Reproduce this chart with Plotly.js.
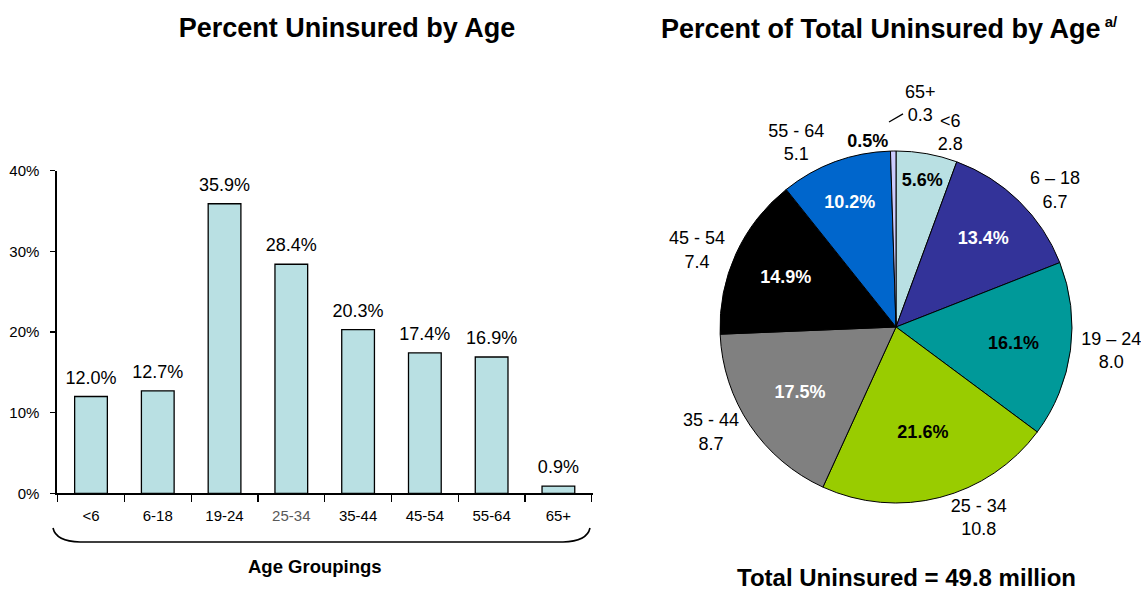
<!DOCTYPE html>
<html><head><meta charset="utf-8">
<script src="https://cdn.plot.ly/plotly-3.0.1.min.js"></script>
<style>html,body{margin:0;padding:0;background:#fff;} #chart{width:1141px;height:590px;}</style>
</head><body><div id="chart"></div>
<script>
// ---- data ----
const ageGroups = ['<6', '6-18', '19-24', '25-34', '35-44', '45-54', '55-64', '65+'];
const pctUninsured = [12.0, 12.7, 35.9, 28.4, 20.3, 17.4, 16.9, 0.9];
const yTickVals = [0, 10, 20, 30, 40];
const yTickText = ['0%', '10%', '20%', '30%', '40%'];

const pieLabels = ['<6', '6 – 18', '19 – 24', '25 - 34', '35 - 44', '45 - 54', '55 - 64', '65+'];
const pieShare = [5.6, 13.4, 16.1, 21.6, 17.5, 14.9, 10.2, 0.5];      // percent of total uninsured
const pieMillions = [2.8, 6.7, 8.0, 10.8, 8.7, 7.4, 5.1, 0.3];        // millions uninsured
const pieColors = ['#B9E0E3', '#333399', '#009999', '#99CC00', '#808080', '#000000', '#0066CC', '#CCCCFF'];
const pieTextColors = ['#000', '#fff', '#000', '#000', '#fff', '#fff', '#fff', '#000'];

// ---- helpers ----
const W = 1141, H = 590;
const px = x => x / W;
const py = y => 1 - y / H;
const esc = s => s.replace(/</g, '&lt;');
const FONT = '"Liberation Sans", Arial, Helvetica, sans-serif';

const barTrace = {
  type: 'bar', x: ageGroups, y: pctUninsured, width: 0.49,
  marker: {color: '#B9E0E3', line: {color: '#000', width: 1.3}},
  hoverinfo: 'x+y', xaxis: 'x', yaxis: 'y'
};

// value labels above the bars (transparent markers give the extra gap)
const barLabels = {
  type: 'scatter', mode: 'markers+text', x: ageGroups, y: pctUninsured,
  text: pctUninsured.map(v => v.toFixed(1) + '%'), textposition: 'top center',
  marker: {size: 12, color: 'rgba(0,0,0,0)'}, textfont: {size: 18, color: '#000'},
  cliponaxis: false, hoverinfo: 'skip', xaxis: 'x', yaxis: 'y'
};

const pieDomain = {x: [px(720), px(1072)], y: [py(503), py(151)]};

const piePct = {
  type: 'pie', labels: pieLabels, values: pieShare, sort: false, direction: 'clockwise', rotation: 0,
  domain: pieDomain,
  marker: {colors: pieColors, line: {color: '#000', width: 1}},
  text: pieShare.map(v => v.toFixed(1) + '%'),
  texttemplate: '<b>%{text}</b>', textinfo: 'text',
  textposition: pieShare.map((v, i) => i === pieShare.length - 1 ? 'outside' : 'inside'),
  insidetextorientation: 'horizontal',
  insidetextfont: {size: 19, color: pieTextColors, family: FONT},
  outsidetextfont: {size: 18, color: '#000', family: FONT},
  hoverinfo: 'label+value', showlegend: false
};

const pieLab = {
  type: 'pie', labels: pieLabels, values: pieShare, sort: false, direction: 'clockwise', rotation: 0,
  domain: pieDomain,
  marker: {colors: pieColors.map(() => 'rgba(0,0,0,0)'), line: {width: 0}},
  text: pieLabels.map((l, i) => i === pieLabels.length - 1 ? '' : esc(l) + '<br>' + pieMillions[i].toFixed(1)),
  texttemplate: '%{text}', textinfo: 'text', textposition: 'outside',
  outsidetextfont: {size: 18, color: '#000', family: FONT},
  hoverinfo: 'skip', showlegend: false
};

const total = pieMillions.reduce((a, b) => a + b, 0);
const last = pieLabels.length - 1;

// brace under the category labels (decoration, pixel path -> paper)
const bracePts = [[53, 528], [56, 541.5], [80, 542], [563, 542], [587, 541.5], [590, 528]];
const P = bracePts.map(p => px(p[0]).toFixed(5) + ',' + py(p[1]).toFixed(5));
const bracePath = `M ${P[0]} Q ${P[1]} ${P[2]} L ${P[3]} Q ${P[4]} ${P[5]}`;

const layout = {
  width: W, height: H, margin: {l: 0, r: 0, t: 0, b: 0},
  paper_bgcolor: '#fff', plot_bgcolor: 'rgba(0,0,0,0)',
  font: {family: FONT, color: '#000', size: 15},
  showlegend: false,
  uniformtext: {mode: 'show', minsize: 18},
  title: {text: '<b>Percent Uninsured by Age</b>', font: {size: 27, color: '#000'},
          x: px(347), xref: 'paper', xanchor: 'center', y: py(28), yref: 'container', yanchor: 'middle'},
  xaxis: {
    domain: [px(56.7), px(592.7)], type: 'category',
    tickmode: 'array', tickvals: ageGroups,
    ticktext: ageGroups.map((g, i) => i === 3 ? '<span style="color:#595959">' + esc(g) + '</span>' : esc(g)),
    tickson: 'boundaries', ticks: 'outside', ticklen: 7, tickwidth: 1.3, tickcolor: '#000',
    showline: true, linecolor: '#000', linewidth: 1.3, showgrid: false, zeroline: false,
    tickfont: {size: 15, color: '#000'}, ticklabelstandoff: 8,
    fixedrange: true
  },
  yaxis: {
    domain: [py(493.3), py(170.7)], range: [0, 40],
    tickmode: 'array', tickvals: yTickVals, ticktext: yTickText,
    ticks: 'outside', ticklen: 5, tickwidth: 1.3, tickcolor: '#000',
    showline: true, linecolor: '#000', linewidth: 1.3, showgrid: false, zeroline: false,
    tickfont: {size: 15, color: '#000'}, ticklabelstandoff: 8, fixedrange: true
  },
  shapes: [{type: 'path', xref: 'paper', yref: 'paper', path: bracePath,
            line: {color: '#000', width: 1.6}, fillcolor: 'rgba(0,0,0,0)'}],
  annotations: [
    {text: '<b>Age Groupings</b>', xref: 'paper', yref: 'paper', x: px(315), y: py(566),
     xanchor: 'center', yanchor: 'middle', showarrow: false, font: {size: 18.5, color: '#000'}},
    {text: '<b>Percent of Total Uninsured by Age</b><sup><b><span style="font-size:15px"> a/</span></b></sup>',
     xref: 'paper', yref: 'paper', x: px(659), y: py(28), xanchor: 'left', yanchor: 'middle', showarrow: false,
     font: {size: 27, color: '#000'}},
    {text: esc(pieLabels[last]) + '<br>' + pieMillions[last].toFixed(1), xref: 'paper', yref: 'paper',
     x: px(889), y: py(122), ax: 31, ay: -18, showarrow: true, arrowhead: 0, arrowwidth: 1.3,
     arrowcolor: '#000', standoff: 0, font: {size: 18, color: '#000'}},
    {text: '<b>Total Uninsured = ' + total.toFixed(1) + ' million</b>', xref: 'paper', yref: 'paper',
     x: px(906), y: py(577), xanchor: 'center', yanchor: 'middle', showarrow: false,
     font: {size: 24, color: '#000'}}
  ]
};

Plotly.newPlot('chart', [barTrace, barLabels, piePct, pieLab], layout, {displayModeBar: false, staticPlot: true});
</script>
</body></html>
